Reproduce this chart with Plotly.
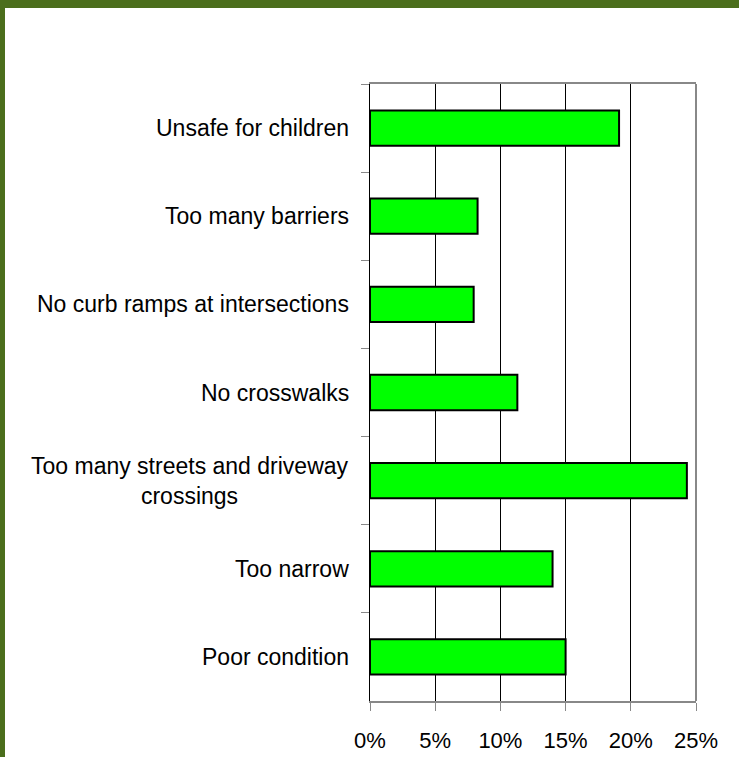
import plotly.graph_objects as go

# Reasons given for not walking on sidewalks (share of respondents, %)
categories = [
    "Unsafe for children",
    "Too many barriers",
    "No curb ramps at intersections",
    "No crosswalks",
    "Too many streets and driveway<br>crossings",
    "Too narrow",
    "Poor condition",
]
values = [19.1, 8.25, 7.95, 11.3, 24.3, 14.0, 15.0]
x_ticks = [0, 5, 10, 15, 20, 25]

W, H = 739, 757
M_L, M_R, M_T, M_B = 370, 43, 84, 56
FONT = "Liberation Sans, Arial, sans-serif"
FRAME_GREEN = "#4b6e1c"

fig = go.Figure(
    go.Bar(
        x=values,
        y=categories,
        orientation="h",
        marker=dict(color="#00ff00", line=dict(color="#000000", width=2)),
        hoverinfo="x+y",
    )
)

# category labels, centred line-by-line, placed left of the axis
annotations = [
    dict(
        x=0, xref="paper", y=c, yref="y",
        text=c, showarrow=False, xanchor="right", yanchor="middle",
        align="center", xshift=-19,
        font=dict(family=FONT, size=23, color="#000000"),
    )
    for c in categories
]

plot_w = W - M_L - M_R
plot_h = H - M_T - M_B
shapes = [
    # right border of plot area
    dict(type="line", xref="paper", yref="paper", x0=1, x1=1, y0=0, y1=1,
         line=dict(color="#888888", width=2), layer="above"),
    # page frame: top band and left band
    dict(type="rect", xref="paper", yref="paper",
         x0=-M_L / plot_w, x1=(W - M_L) / plot_w,
         y0=(H - 8 - M_B) / plot_h, y1=(H - M_B) / plot_h,
         fillcolor=FRAME_GREEN, line=dict(width=0), layer="above"),
    dict(type="rect", xref="paper", yref="paper",
         x0=-M_L / plot_w, x1=(5 - M_L) / plot_w,
         y0=-M_B / plot_h, y1=(H - M_B) / plot_h,
         fillcolor=FRAME_GREEN, line=dict(width=0), layer="above"),
]

fig.update_layout(
    width=W,
    height=H,
    margin=dict(l=M_L, r=M_R, t=M_T, b=M_B, pad=0, autoexpand=False),
    paper_bgcolor="#ffffff",
    plot_bgcolor="#ffffff",
    bargap=0.6,
    showlegend=False,
    font=dict(family=FONT, size=22, color="#000000"),
    annotations=annotations,
    shapes=shapes,
    xaxis=dict(
        range=[0, 25],
        tickvals=x_ticks,
        ticktext=[f"{t}%" for t in x_ticks],
        showgrid=True,
        gridcolor="#000000",
        gridwidth=1,
        showline=True,
        linecolor="#888888",
        linewidth=2,
        mirror=True,
        ticks="outside",
        ticklen=8,
        tickcolor="#888888",
        tickwidth=1,
        ticklabelstandoff=11,
        tickfont=dict(family=FONT, size=22, color="#000000"),
        zeroline=False,
        automargin=False,
        fixedrange=True,
    ),
    yaxis=dict(
        type="category",
        categoryorder="array",
        categoryarray=categories,
        autorange="reversed",
        tickson="boundaries",
        showticklabels=False,
        ticks="outside",
        ticklen=8,
        tickcolor="#888888",
        tickwidth=1,
        showgrid=False,
        showline=True,
        linecolor="#000000",
        linewidth=1,
        zeroline=False,
        automargin=False,
        fixedrange=True,
    ),
)

fig.write_html("out.html")
